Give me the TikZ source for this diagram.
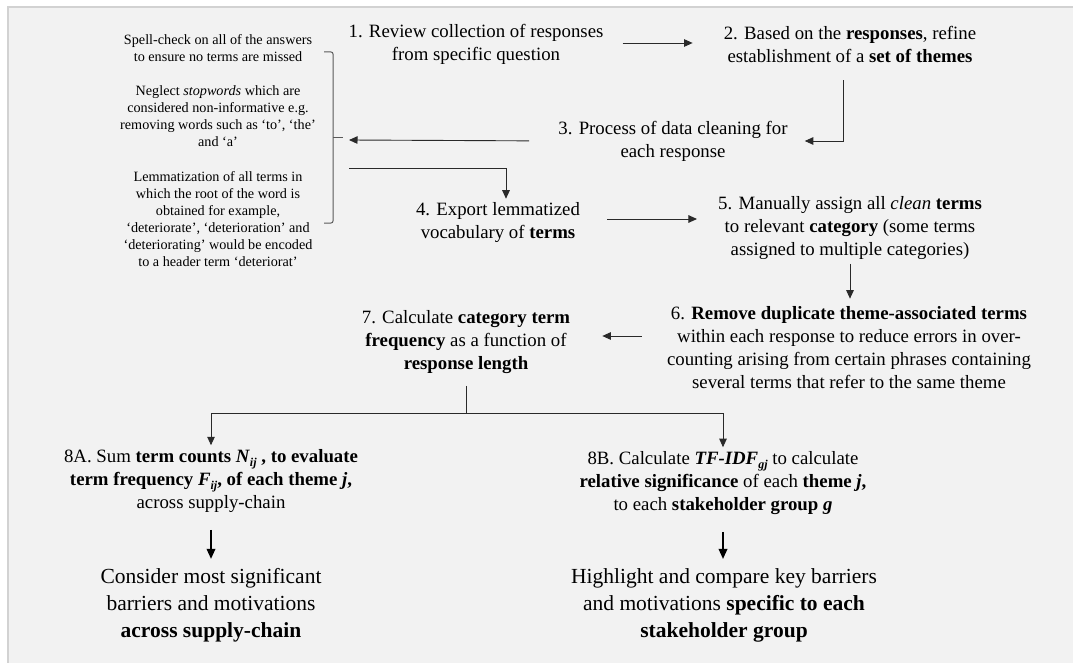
\documentclass[tikz,border=0pt]{standalone}
\usepackage{fontspec}
\setmainfont{Liberation Serif}
\usetikzlibrary{arrows.meta}
\definecolor{bgfill}{HTML}{F2F2F2}
\definecolor{bordercol}{HTML}{D2D2D2}
\definecolor{linecol}{HTML}{2A2A2A}
\newcommand\subtxt[1]{\raisebox{-0.5ex}{\fontsize{12}{12}\selectfont #1}}
\begin{document}
\begin{tikzpicture}[x=1pt,y=-1pt,
  stepnode/.style={align=center, inner sep=0pt, font=\fontsize{18.8}{23}\selectfont},
  notenode/.style={align=center, inner sep=0pt, font=\fontsize{14.2}{17}\selectfont},
  resnode/.style={align=center, inner sep=0pt, font=\fontsize{21.5}{27}\selectfont},
  arr/.style={draw=linecol, line width=0.9pt, -{Triangle[length=8.5pt,width=7.5pt]}},
  plainline/.style={draw=linecol, line width=0.9pt},
  bigarr/.style={draw=black, line width=1.8pt, -{Triangle[length=10pt,width=8.5pt]}},
  brk/.style={draw=black!65, line width=1pt, rounded corners=2pt}]
\useasboundingbox (0,0) rectangle (1073,663);
\fill[white] (0,0) rectangle (1073,663);
\fill[bgfill] (8,7) rectangle (1073,663);
\draw[bordercol, line width=2pt] (8,663) -- (8,7) -- (1073,7);

% left notes
\node[notenode] (tA) at (218,48) {Spell-check on all of the answers\\to ensure no terms are missed};
\node[notenode] (tB) at (218,116.5) {Neglect \textit{stopwords} which are\\considered non-informative e.g.\\removing words such as ‘to’, ‘the’\\and ‘a’};
\node[notenode] (tC) at (218,219) {Lemmatization of all terms in\\which the root of the word is\\obtained for example,\\‘deteriorate’, ‘deterioration’ and\\‘deteriorating’ would be encoded\\to a header term ‘deteriorat’};

% bracket
\draw[brk] (324,52) -- (333,52) -- (333,223) -- (324,223);
\draw[brk] (333,138) -- (343,138);
\coordinate (brIn) at (349,140);
\coordinate (brOut) at (349,168);

% steps
\node[stepnode] (n1) at (476,44) {1. Review collection of responses\\from specific question};
\node[stepnode] (n2) at (850,44) {2. Based on the \textbf{responses}, refine\\establishment of a \textbf{set of themes}};
\node[stepnode] (n3) at (673,141) {3. Process of data cleaning for\\each response};
\node[stepnode] (n4) at (498,223) {4. Export lemmatized\\vocabulary of \textbf{terms}};
\node[stepnode] (n5) at (850,228) {5. Manually assign all \textit{clean} \textbf{terms}\\to relevant \textbf{category} (some terms\\assigned to multiple categories)};
\node[stepnode] (n6) at (849,348) {6. \textbf{Remove duplicate theme-associated terms}\\within each response to reduce errors in over-\\counting arising from certain phrases containing\\several terms that refer to the same theme};
\node[stepnode] (n7) at (466,342) {7. Calculate \textbf{category term}\\\textbf{frequency} as a function of\\\textbf{response length}};
\node[stepnode] (n8a) at (211,481) {8A. Sum \textbf{term counts \textit{N}\subtxt{\textit{ij}} , to evaluate}\\\textbf{term frequency \textit{F}\subtxt{\textit{ij}}, of each theme \textit{j},}\\across supply-chain};
\node[stepnode] (n8b) at (723,483) {8B. Calculate \textbf{\textit{TF-IDF}\subtxt{\textit{gj}}} to calculate\\\textbf{relative significance} of each \textbf{theme \textit{j},}\\to each \textbf{stakeholder group \textit{g}}};
\node[resnode] (r8a) at (211,605) {Consider most significant\\barriers and motivations\\\textbf{across supply-chain}};
\node[resnode] (r8b) at (724,605) {Highlight and compare key barriers\\and motivations \textbf{specific to each}\\\textbf{stakeholder group}};

% connectors
\draw[arr, shorten <=19pt, shorten >=31pt] ([yshift=1pt]n1.east) -- ([yshift=1pt]n1.east -| n2.west);
\draw[arr, shorten <=18pt, shorten >=17pt] ([xshift=-7pt]n2.south) |- (n3.east);
\draw[arr, shorten <=29pt] (n3.west) -- (brIn);
\draw[arr, shorten >=4pt] (brOut) -| ([xshift=8pt]n4.north);
\draw[arr, shorten <=27pt, shorten >=21pt] ([yshift=4pt]n4.east) -- ([yshift=4pt]n4.east -| n5.west);
\draw[arr, shorten <=4pt, shorten >=8pt] (n5.south) -- (n5.south |- n6.north);
\draw[arr, shorten <=25pt, shorten >=32pt] ([yshift=6pt]n7.east -| n6.west) -- ([yshift=6pt]n7.east);
\coordinate (hline) at (0,413);
\coordinate (split) at (n7.south |- hline);
\draw[plainline, shorten <=12pt] (n7.south) -- (split);
\draw[arr, shorten >=4pt] (split) -| (n8a.north);
\draw[arr, shorten >=4pt] (split) -| (n8b.north);
\draw[bigarr, shorten <=17pt, shorten >=9pt] (n8a.south) -- (n8a.south |- r8a.north);
\draw[bigarr, shorten <=17pt, shorten >=9pt] (n8b.south) -- (n8b.south |- r8b.north);
\end{tikzpicture}
\end{document}
